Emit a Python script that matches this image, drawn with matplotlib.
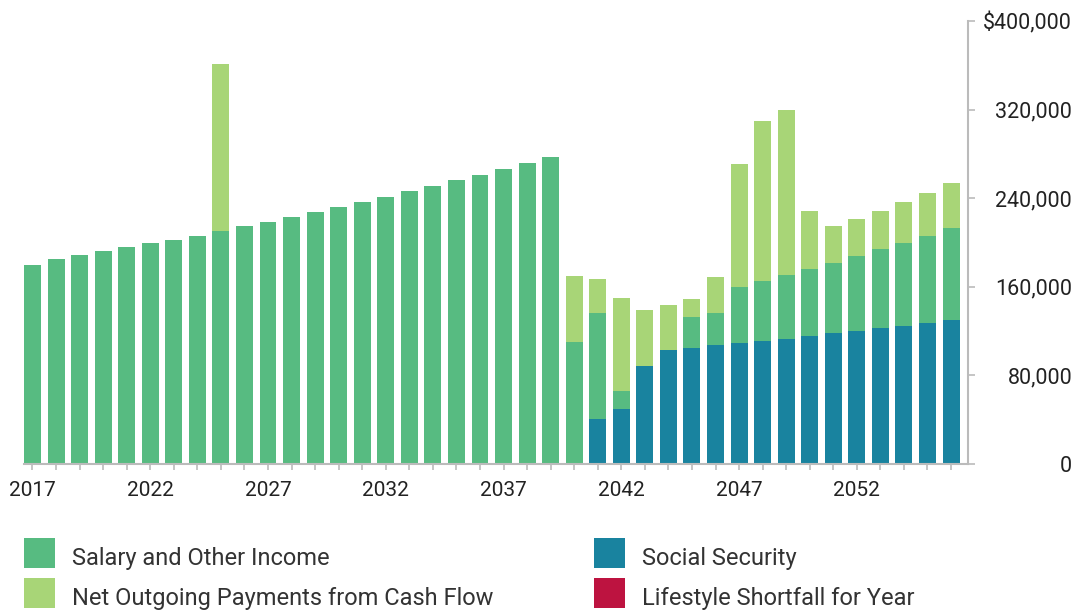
import numpy as np
import matplotlib.pyplot as plt
from matplotlib.patches import Rectangle

plt.rcParams['font.family'] = ['Roboto', 'DejaVu Sans']

years = list(range(2017, 2057))

# valores por serie (USD)
social_security = [0] * 24 + [40500, 49500, 88300, 102700, 104500, 107200, 109000,
                              110800, 112600, 115300, 118000, 119800, 122500,
                              124300, 127000, 129700]
salary = [179300, 184700, 188300, 191900, 195500, 199100, 202700, 206300,
          210200, 215300, 218900, 223400, 227900, 232400, 236900, 241400,
          246800, 251300, 256700, 261200, 266600, 272000, 277500, 109900,
          95500, 16300, 0, 0, 27900, 28800, 50500, 54100, 57700, 60400,
          63100, 67600, 71200, 75700, 79300, 83800]
net_outgoing = [0] * 8 + [151300] + [0] * 14 + [59500, 30700, 83800, 50400,
                40500, 16200, 32500, 111700, 145000, 149500, 53100, 34200,
                34200, 35100, 36900, 38700, 40500]
shortfall = [0] * 40

series_names = ['Salary and Other Income', 'Net Outgoing Payments from Cash Flow',
                'Social Security', 'Lifestyle Shortfall for Year']
series_colors = ['#57BB81', '#A8D577', '#19839F', '#BD1340']

ytick_vals = [0, 80000, 160000, 240000, 320000, 400000]
ytick_labels = ['0', '80,000', '160,000', '240,000', '320,000', '$400,000']

fig = plt.figure(figsize=(10.76, 6.10), dpi=100)
ax = fig.add_axes([24 / 1076, 1 - 464 / 610, (968 - 24) / 1076, (464 - 21) / 610])

x = np.arange(len(years))
w = 0.72
ss = np.array(social_security)
sal = np.array(salary)
net = np.array(net_outgoing)
ax.bar(x, ss, w, color=series_colors[2], linewidth=0)
ax.bar(x, sal, w, bottom=ss, color=series_colors[0], linewidth=0)
ax.bar(x, net, w, bottom=ss + sal, color=series_colors[1], linewidth=0)
ax.bar(x, shortfall, w, bottom=ss + sal + net, color=series_colors[3], linewidth=0)

ax.set_xlim(-w / 2, len(years) - 1 + 0.72)
ax.set_ylim(0, 400000)

# ejes
for s in ['top', 'left']:
    ax.spines[s].set_visible(False)
for s in ['bottom', 'right']:
    ax.spines[s].set_color('#BBBBBB')
    ax.spines[s].set_linewidth(1.5)

ax.yaxis.tick_right()
ax.set_yticks(ytick_vals)
ax.set_yticklabels(ytick_labels, ha='right', fontsize=15.5, color='#222222')
ax.tick_params(axis='y', direction='out', length=5, width=1.2, color='#BBBBBB', pad=70)

ax.set_xticks(x, minor=True)
ax.set_xticks(x[::5])
ax.set_xticklabels([str(y) for y in years[::5]], fontsize=15, color='#222222')
ax.tick_params(axis='x', which='both', direction='out', length=4, width=1.2,
               color='#BBBBBB', pad=8)

# leyenda manual
legend_pos = [(24, 538), (24, 578), (594, 538), (594, 578)]
for (lx, ly), name, col in zip(legend_pos, series_names, series_colors):
    fig.add_artist(Rectangle((lx / 1076, 1 - (ly + 30) / 610), 31 / 1076, 30 / 610,
                             transform=fig.transFigure, color=col, linewidth=0))
    fig.text((lx + 48) / 1076, 1 - (ly + 20) / 610, name, fontsize=17,
             color='#333333', va='center', ha='left')

fig.savefig('out.png', dpi=100)
